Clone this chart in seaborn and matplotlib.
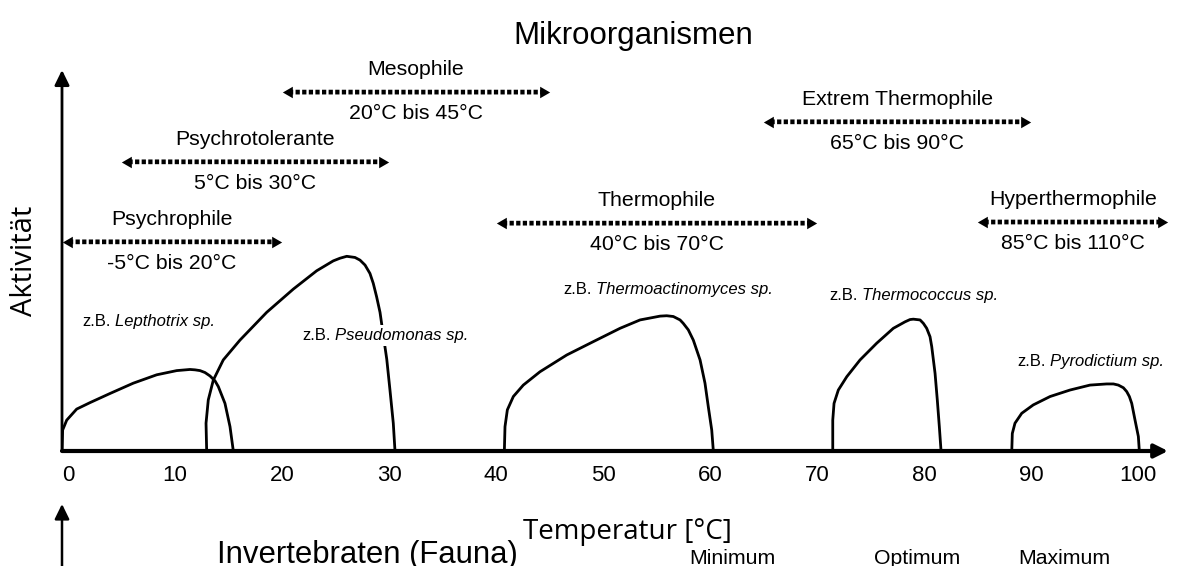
import matplotlib
matplotlib.use("Agg")
import matplotlib.pyplot as plt
import matplotlib.transforms as mtransforms
from matplotlib.offsetbox import TextArea, HPacker, AnnotationBbox
import pandas as pd
import seaborn as sns

# Temperature classes of microorganisms (lower / upper limit in °C)
groups = ["Psychrophile", "Psychrotolerante", "Mesophile", "Thermophile",
          "Extrem Thermophile", "Hyperthermophile"]
group_min = [-5, 5, 20, 40, 65, 85]
group_max = [20, 30, 45, 70, 90, 110]

# Example organisms with their activity curves (temperature in °C, relative activity)
organisms = ["Lepthotrix sp.", "Pseudomonas sp.", "Thermoactinomyces sp.",
             "Thermococcus sp.", "Pyrodictium sp."]

lepthotrix_temp = [-0.56, -0.50, -0.12, 0.81, 2.06, 3.93, 6.10, 8.29, 10.16, 11.40,
                   11.87, 12.34, 12.80, 13.27, 13.74, 14.05, 14.67, 15.14, 15.45]
lepthotrix_act = [0, 5.5, 8.1, 11.0, 12.7, 15.1, 17.8, 20.0, 21.1, 21.4,
                  21.3, 21.1, 20.6, 19.7, 18.4, 16.9, 12.5, 6.4, 0]

pseudomonas_temp = [12.96, 12.90, 13.11, 13.58, 14.51, 16.07, 18.57, 21.06, 23.24, 24.79,
                    25.42, 26.05, 26.82, 27.29, 27.76, 28.22, 28.53, 28.84, 29.16, 29.47,
                    29.79, 30.09, 30.40, 30.56]
pseudomonas_act = [0, 7.3, 13.4, 18.6, 23.9, 29.1, 36.4, 42.5, 47.3, 49.9,
                   50.6, 51.1, 50.8, 50.1, 48.8, 46.6, 44.0, 40.5, 36.4, 30.3,
                   24.1, 16.0, 7.3, 0]

thermoactinomyces_temp = [40.78, 40.84, 41.06, 41.62, 42.55, 44.11, 46.61, 49.09, 51.59,
                          53.46, 55.33, 55.95, 56.57, 57.20, 57.50, 57.97, 58.44, 59.07,
                          59.53, 59.84, 60.16, 60.31]
thermoactinomyces_act = [0, 6.4, 10.8, 14.3, 17.3, 20.8, 25.2, 28.7, 32.2,
                         34.4, 35.4, 35.5, 35.3, 34.4, 33.5, 31.8, 29.1, 23.9,
                         17.8, 11.6, 5.5, 0]

thermococcus_temp = [71.47, 71.47, 71.59, 71.99, 72.78, 74.02, 75.58, 77.13, 78.22,
                     78.69, 79.00, 79.63, 79.94, 80.25, 80.56, 80.72, 81.03, 81.24,
                     81.43, 81.59]
thermococcus_act = [0, 8.1, 12.5, 16.0, 19.5, 23.9, 28.3, 32.2, 33.9,
                    34.5, 34.6, 34.4, 33.5, 32.2, 30.0, 27.4, 20.4, 13.4,
                    6.4, 0]

pyrodictium_temp = [88.20, 88.25, 88.50, 89.13, 90.21, 91.78, 93.64, 95.51, 97.07,
                    97.70, 98.16, 98.63, 98.94, 99.19, 99.41, 99.72, 100.03, 100.12]
pyrodictium_act = [0, 4.6, 7.3, 9.9, 12.1, 14.3, 16.0, 17.3, 17.6,
                   17.6, 17.3, 16.6, 15.6, 14.3, 12.5, 8.1, 3.8, 0]

x_ticks = [0, 10, 20, 30, 40, 50, 60, 70, 80, 90, 100]
cardinal_points = ["Minimum", "Optimum", "Maximum"]

# ---- layout ----------------------------------------------------------------
XMIN, XMAX = -0.56, 102.8
YMIN, YMAX = 0, 100
group_rows = [54.9, 75.9, 94.2, 59.8, 86.4, 60.1]          # height of each range arrow
organism_pos = [(7.5, 33.9), (29.7, 30.4), (56.1, 42.3), (79.0, 40.9), (95.6, 23.4)]
cardinal_x = [62.1, 79.4, 93.1]

sns.set_theme(style="white")
plt.rcParams["font.family"] = ["Liberation Sans", "DejaVu Sans"]
plt.rcParams["text.color"] = "black"

W, H = 1179, 566
fig = plt.figure(figsize=(W / 100, H / 100), dpi=100)
ax = fig.add_axes([62 / W, 115 / H, 1106 / W, 381 / H])

curves = pd.concat([
    pd.DataFrame({"organism": name, "temp": t, "act": a})
    for name, t, a in zip(
        organisms,
        [lepthotrix_temp, pseudomonas_temp, thermoactinomyces_temp, thermococcus_temp, pyrodictium_temp],
        [lepthotrix_act, pseudomonas_act, thermoactinomyces_act, thermococcus_act, pyrodictium_act],
    )
])
sns.lineplot(data=curves, x="temp", y="act", units="organism", estimator=None,
             sort=False, color="black", lw=2.0, ax=ax, legend=False)
for line in ax.get_lines():
    line.set_solid_joinstyle("round")

ax.set_xlim(XMIN, XMAX)
ax.set_ylim(YMIN, YMAX)
for s in ax.spines.values():
    s.set_visible(False)
ax.set_yticks([])
ax.set_xticks(x_ticks)
ax.set_xticklabels([str(v) for v in x_ticks])
ax.tick_params(axis="x", length=0, pad=10, labelsize=16, colors="black")
ax.grid(False)

# axes drawn as arrows
ax.annotate("", xy=(1, 0), xytext=(0, 0), xycoords="axes fraction",
            arrowprops=dict(arrowstyle="-|>,head_length=0.4,head_width=0.2", lw=3,
                            color="black", mutation_scale=20, shrinkA=0, shrinkB=0),
            annotation_clip=False)
ax.annotate("", xy=(0, 1), xytext=(0, 0), xycoords="axes fraction",
            arrowprops=dict(arrowstyle="-|>,head_length=0.45,head_width=0.22", lw=2,
                            color="black", mutation_scale=20, shrinkA=0, shrinkB=0),
            annotation_clip=False)

ax.set_ylabel("Aktivität", family=["Open Sans", "DejaVu Sans"], fontsize=21, color="black")
ax.yaxis.label.set_va("center")
ax.yaxis.set_label_coords(-0.0335, 0.5)
ax.set_xlabel("Temperatur [°C]", family=["Open Sans", "DejaVu Sans"], fontsize=20, color="black")
ax.xaxis.label.set_va("baseline")
ax.xaxis.set_label_coords(0.511, -0.231)

# temperature ranges as dotted double arrows
ms = 9.6
for name, lo, hi, row in zip(groups, group_min, group_max, group_rows):
    a, b = max(lo, XMIN), min(hi, XMAX)
    ax.annotate("", xy=(b, row), xytext=(a, row),
                arrowprops=dict(arrowstyle="-", lw=3.4, linestyle=(0, (0.9, 0.5)),
                                color="black", shrinkA=5, shrinkB=5, capstyle="butt"))
    ax.plot([b], [row], marker=(3, 0, -90), ms=ms, mew=0, color="black",
            transform=mtransforms.offset_copy(ax.transData, fig=fig, x=-ms / 2, units="points"))
    ax.plot([a], [row], marker=(3, 0, 90), ms=ms, mew=0, color="black",
            transform=mtransforms.offset_copy(ax.transData, fig=fig, x=ms / 2, units="points"))
    mid = (a + b) / 2
    ax.annotate(name, xy=(mid, row), xytext=(0, 16), textcoords="offset points",
                ha="center", va="center", fontsize=15.3)
    ax.annotate(f"{lo}°C bis {hi}°C", xy=(mid, row), xytext=(0, -15.5),
                textcoords="offset points", ha="center", va="center", fontsize=15.3)

# example organisms
for name, (x, y) in zip(organisms, organism_pos):
    box = HPacker(children=[TextArea("z.B.", textprops=dict(fontsize=12)),
                            TextArea(name, textprops=dict(fontsize=12, style="italic"))],
                  align="baseline", pad=0, sep=3)
    framed = name.startswith("Pseudomonas")
    ab = AnnotationBbox(box, (x, y), xycoords="data", box_alignment=(0.5, 0.5),
                        frameon=framed, pad=0.2,
                        bboxprops=dict(facecolor="white", edgecolor="none"))
    ab.set_zorder(5)
    ax.add_artist(ab)

fig.text(633 / W, 1 - 44 / H, "Mikroorganismen", ha="center", va="baseline", fontsize=22.5)

# lower panel (invertebrates), only its upper edge is visible
ax2 = fig.add_axes([62 / W, -0.6, 1106 / W, 0.6 + 62 / H])
ax2.set_xlim(XMIN, XMAX)
ax2.axis("off")
ax2.annotate("", xy=(0, 1), xytext=(0, 0), xycoords="axes fraction",
             arrowprops=dict(arrowstyle="-|>,head_length=0.45,head_width=0.22", lw=1.8,
                             color="black", mutation_scale=20, shrinkA=0, shrinkB=0),
             annotation_clip=False)
fig.text(367 / W, 3 / H, "Invertebraten (Fauna)", ha="center", va="baseline", fontsize=22.4)
blend = mtransforms.blended_transform_factory(ax2.transData, fig.transFigure)
for label, x in zip(cardinal_points, cardinal_x):
    ax2.text(x, 1 - 549 / H, label, ha="center", va="top", fontsize=15.3, transform=blend)

fig.savefig("out.png", dpi=100, facecolor="white")
